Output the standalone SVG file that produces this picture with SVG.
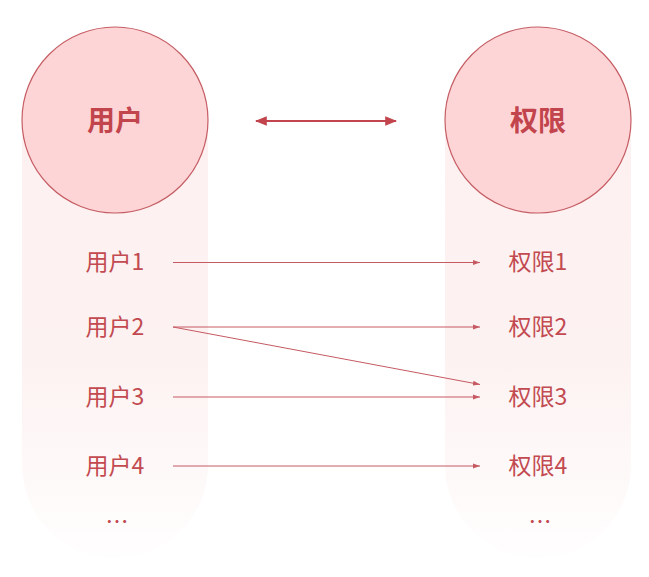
<svg xmlns="http://www.w3.org/2000/svg" width="649" height="577" viewBox="0 0 649 577">
<style>
.col{fill:url(#fade)}
.circ{fill:#fdd5d6;stroke:#c55d64;stroke-width:1.2}
.title{font-family:"Noto Sans CJK SC","Noto Sans",sans-serif;font-weight:bold;font-size:28px;fill:#c2444c;text-anchor:middle}
.item{font-family:"Noto Sans CJK SC","Noto Sans",sans-serif;font-size:23px;fill:#c24a50;text-anchor:middle}
.conn{stroke:#c65a62;stroke-width:1;fill:none;marker-end:url(#ah)}
.dbl{stroke:#c2444c;stroke-width:2;fill:none;marker-start:url(#big);marker-end:url(#big)}
</style>
<defs>
<linearGradient id="fade" x1="0" y1="0" x2="0" y2="1">
<stop offset="0" stop-color="#fdf0f0"/>
<stop offset="0.55" stop-color="#fdf2f2"/>
<stop offset="1" stop-color="#fffefe"/>
</linearGradient>
<marker id="ah" viewBox="0 0 10 10" refX="10" refY="5" markerWidth="7" markerHeight="7" markerUnits="userSpaceOnUse" orient="auto">
<path d="M0,1.5 L10,5 L0,8.5 Z" fill="#c65a62"/>
</marker>
<marker id="big" viewBox="0 0 10 10" refX="9" refY="5" markerWidth="12" markerHeight="12" markerUnits="userSpaceOnUse" orient="auto-start-reverse">
<path d="M0,1 L10,5 L0,9 Z" fill="#c2444c"/>
</marker>
</defs>
<rect width="649" height="577" fill="#ffffff"/>
<g id="users">
<path class="col" d="M22,120 V465 A93,93 0 0 0 208,465 V120 Z"/>
<circle class="circ" cx="115" cy="120" r="93"/>
<text class="title" x="115" y="131">用户</text>
</g>
<g id="perms">
<path class="col" d="M445,120 V465 A93,93 0 0 0 631,465 V120 Z"/>
<circle class="circ" cx="538" cy="120" r="93"/>
<text class="title" x="538" y="131">权限</text>
</g>
<g id="user-items">
<text class="item" x="115" y="270">用户1</text>
<text class="item" x="115" y="335">用户2</text>
<text class="item" x="115" y="405">用户3</text>
<text class="item" x="115" y="474">用户4</text>
<text class="item" x="117" y="530">…</text>
</g>
<g id="perm-items">
<text class="item" x="538" y="270">权限1</text>
<text class="item" x="538" y="335">权限2</text>
<text class="item" x="538" y="405">权限3</text>
<text class="item" x="538" y="474">权限4</text>
<text class="item" x="540" y="530">…</text>
</g>
<g id="connectors">
<line class="dbl" x1="256" y1="121" x2="396" y2="121"/>
<line class="conn" x1="173" y1="262.5" x2="480" y2="262.5"/>
<line class="conn" x1="173" y1="327" x2="480" y2="327"/>
<line class="conn" x1="173" y1="327" x2="480" y2="384.5"/>
<line class="conn" x1="173" y1="397" x2="480" y2="397"/>
<line class="conn" x1="173" y1="466" x2="480" y2="466"/>
</g>
</svg>
